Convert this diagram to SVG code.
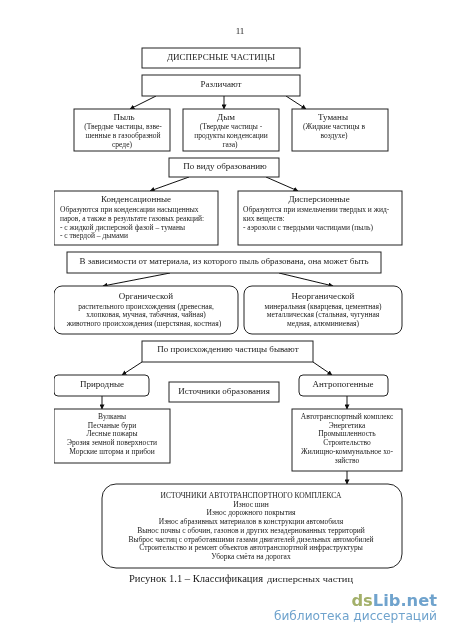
<svg xmlns="http://www.w3.org/2000/svg" width="450" height="637" viewBox="0 0 450 637">
<style>
text{font-family:"Liberation Serif","Times New Roman",serif;fill:#1a1a1a;text-anchor:middle}
.b{fill:#fff;stroke:#222;stroke-width:1}
.h{font-size:9px}
.s{font-size:7.5px}
.l{text-anchor:start}
.c{stroke:#111;stroke-width:1;fill:none;marker-end:url(#a)}
</style>
<defs><marker id="a" viewBox="0 0 6 6" refX="5.5" refY="3" markerWidth="5" markerHeight="5" orient="auto" markerUnits="userSpaceOnUse"><path d="M0 0L6 3L0 6z" fill="#111"/></marker>
<filter id="soft" x="0" y="0" width="100%" height="100%"><feGaussianBlur stdDeviation="0.3"/></filter></defs>
<rect width="450" height="637" fill="#fff"/>
<g filter="url(#soft)">
<text x="240" y="34" class="h">11</text>
<g id="connectors">
<path class="c" d="M156 96L130 109"/><path class="c" d="M224 96V109"/><path class="c" d="M286 96L306 109"/>
<path class="c" d="M189 177L150 191"/><path class="c" d="M266 177L298 191"/>
<path class="c" d="M170 273L103 286"/><path class="c" d="M279 273L333 286"/>
<path class="c" d="M142 362L122 375"/><path class="c" d="M313 362L332 375"/>
<path class="c" d="M102 396V409"/><path class="c" d="M347 396V409"/><path class="c" d="M347 471V484"/>
</g>
<g id="n1"><rect class="b" x="142" y="48" width="158" height="20"/><text class="h" x="221" y="60">ДИСПЕРСНЫЕ ЧАСТИЦЫ</text></g>
<g id="n2"><rect class="b" x="142" y="75" width="158" height="21"/><text class="h" x="221" y="87">Различают</text></g>
<g id="n3"><rect class="b" x="74" y="109" width="96" height="42"/><text class="h" x="124" y="120">Пыль</text><text class="s" x="123" y="129">(Твердые частицы, взве-</text><text class="s" x="123" y="138">шенные в газообразной</text><text class="s" x="122" y="147">среде)</text></g>
<g id="n4"><rect class="b" x="183" y="109" width="96" height="42"/><text class="h" x="226" y="120">Дым</text><text class="s" x="231" y="129">(Твердые частицы -</text><text class="s" x="231" y="138">продукты конденсации</text><text class="s" x="230" y="147">газа)</text></g>
<g id="n5"><rect class="b" x="292" y="109" width="96" height="42"/><text class="h" x="333" y="120">Туманы</text><text class="s" x="334" y="129">(Жидкие частицы в</text><text class="s" x="334" y="138">воздухе)</text></g>
<g id="n6"><rect class="b" x="169" y="158" width="110" height="19"/><text class="h" x="225" y="169">По виду образованию</text></g>
<g id="n7"><rect class="b" x="54" y="191" width="164" height="54"/><text class="h" x="136" y="202">Конденсационные</text><text class="s l" x="60" y="212">Образуются при конденсации насыщенных</text><text class="s l" x="60" y="221">паров, а также в результате газовых реакций:</text><text class="s l" x="60" y="230">- с жидкой дисперсной фазой – туманы</text><text class="s l" x="60" y="238">- с твердой – дымами</text></g>
<g id="n8"><rect class="b" x="238" y="191" width="164" height="54"/><text class="h" x="319" y="202">Дисперсионные</text><text class="s l" x="243" y="212">Образуются при измельчении твердых и жид-</text><text class="s l" x="243" y="221">ких веществ:</text><text class="s l" x="243" y="230">- аэрозоли с твердыми частицами (пыль)</text></g>
<g id="n9"><rect class="b" x="67" y="252" width="314" height="21"/><text class="h" x="224" y="264">В зависимости от материала, из которого пыль образована, она может быть</text></g>
<g id="n10"><rect class="b" x="54" y="286" width="184" height="48" rx="8"/><text class="h" x="146" y="299">Органической</text><text class="s" x="146" y="309">растительного происхождения (древесная,</text><text class="s" x="146" y="317">хлопковая, мучная, табачная, чайная)</text><text class="s" x="144" y="326">животного происхождения (шерстяная, костная)</text></g>
<g id="n11"><rect class="b" x="244" y="286" width="158" height="48" rx="8"/><text class="h" x="323" y="299">Неорганической</text><text class="s" x="323" y="309">минеральная (кварцевая, цементная)</text><text class="s" x="323" y="317">металлическая (стальная, чугунная</text><text class="s" x="323" y="326">медная, алюминиевая)</text></g>
<g id="n12"><rect class="b" x="142" y="341" width="171" height="21"/><text class="h" x="228" y="352">По происхождению частицы бывают</text></g>
<g id="n13"><rect class="b" x="54" y="375" width="95" height="21" rx="4"/><text class="h" x="102" y="387">Природные</text></g>
<g id="n14"><rect class="b" x="169" y="382" width="110" height="20"/><text class="h" x="224" y="394">Источники образования</text></g>
<g id="n15"><rect class="b" x="299" y="375" width="89" height="21" rx="4"/><text class="h" x="343" y="387">Антропогенные</text></g>
<g id="n16"><rect class="b" x="54" y="409" width="116" height="54"/><text class="s" x="112" y="419">Вулканы</text><text class="s" x="112" y="428">Песчаные бури</text><text class="s" x="112" y="436">Лесные пожары</text><text class="s" x="112" y="445">Эрозия земной поверхности</text><text class="s" x="112" y="454">Морские шторма и прибои</text></g>
<g id="n17"><rect class="b" x="292" y="409" width="110" height="62"/><text class="s" x="347" y="419">Автотранспортный комплекс</text><text class="s" x="347" y="428">Энергетика</text><text class="s" x="347" y="436">Промышленность</text><text class="s" x="347" y="445">Строительство</text><text class="s" x="347" y="454">Жилищно-коммунальное хо-</text><text class="s" x="347" y="463">зяйство</text></g>
<g id="n18"><rect class="b" x="102" y="484" width="300" height="84" rx="14"/><text class="s" x="251" y="498">ИСТОЧНИКИ АВТОТРАНСПОРТНОГО КОМПЛЕКСА</text><text class="s" x="251" y="507">Износ шин</text><text class="s" x="251" y="515">Износ дорожного покрытия</text><text class="s" x="251" y="524">Износ абразивных материалов в конструкции автомобиля</text><text class="s" x="251" y="533">Вынос почвы с обочин, газонов и других незадернованных территорий</text><text class="s" x="251" y="542">Выброс  частиц с отработавшими газами двигателей дизельных автомобилей</text><text class="s" x="251" y="550">Строительство и ремонт объектов автотранспортной инфраструктуры</text><text class="s" x="251" y="559">Уборка смёта на дорогах</text></g>
<text x="129" y="582" font-size="10.5" textLength="134" lengthAdjust="spacingAndGlyphs" style="text-anchor:start">Рисунок 1.1 – Классификация</text>
<text x="267" y="582" font-size="8.5" textLength="86" lengthAdjust="spacingAndGlyphs" style="text-anchor:start">дисперсных частиц</text>
<text x="437" y="606" font-size="16.3" font-weight="700" style="text-anchor:end;font-family:'DejaVu Sans',sans-serif;fill:#6fa3cd"><tspan fill="#a3b06a">ds</tspan>Lib.net</text>
<text x="437" y="620" font-size="12.2" style="text-anchor:end;font-family:'DejaVu Sans',sans-serif;fill:#6fa3cd">библиотека диссертаций</text>
</g>
</svg>
